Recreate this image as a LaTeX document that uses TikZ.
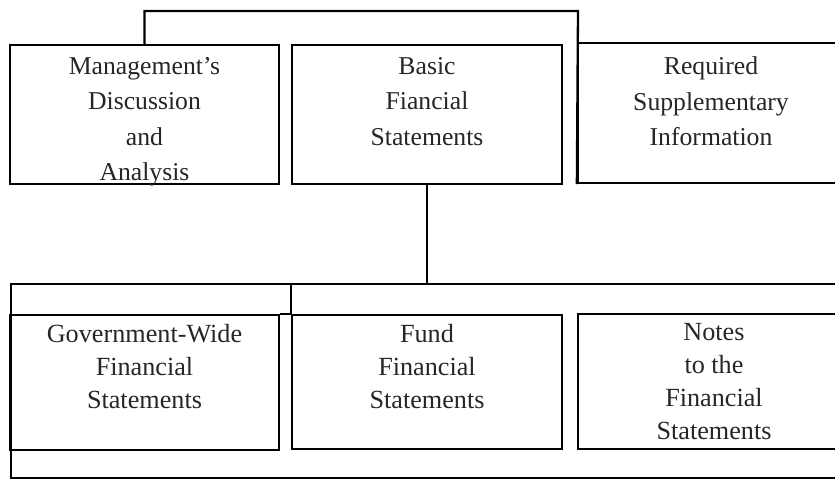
\documentclass[tikz,border=0pt]{standalone}
\usepackage{fontspec}
\setmainfont{Liberation Serif}
\usetikzlibrary{positioning}

\begin{document}
\begin{tikzpicture}[x=1pt, y=-1pt, line width=2.3pt]
  \tikzstyle{Box} = [draw, rectangle, inner sep = 0, minimum height = 139pt]
  \tikzstyle{BoxText} = [align = center, inner sep = 0, anchor = north,
                         text = black!85, font = \fontsize{25.7}{35.5}\selectfont]
  \tikzstyle{LowText} = [BoxText, font = \fontsize{26.2}{33}\selectfont]
\useasboundingbox (0,0) rectangle (835,480);
\clip (0,0) rectangle (835,480);

% top row
\node[Box, minimum width = 269pt] (MDA) at (144.5,114.5) {};
\node[Box, minimum width = 270pt] (BFS) at (427,114.5) {};
\node[Box, minimum width = 266pt, minimum height = 140pt] (RSI) at (711,113) {};
\node[BoxText, below = 12pt of MDA.north] (MDAtext) {Management’s\\Discussion\\and\\Analysis};
\node[BoxText, below = 12pt of BFS.north] (BFStext) {Basic\\Fiancial\\Statements};
\node[BoxText, below = 14pt of RSI.north] (RSItext) {Required\\Supplementary\\Information};

% frame round the bottom row
\node[draw, minimum width = 860pt, minimum height = 194pt,
      anchor = north west] (Frame) at (10,283) {};

% bottom row
\node[Box, minimum width = 269pt, minimum height = 135pt] (GW) at (144.5,382.5) {};
\node[Box, minimum width = 270pt, minimum height = 134pt] (FFS) at (427,382) {};
\node[Box, minimum width = 272pt, minimum height = 135pt] (NFS) at (714,381.5) {};
\node[LowText, below = 9pt of GW.north] (GWtext) {Government-Wide\\Financial\\Statements};
\node[LowText, below = 9pt of FFS.north] (FFStext) {Fund\\Financial\\Statements};
\node[LowText, below = 9pt of NFS.north] (NFStext) {Notes\\to the\\Financial\\Statements};

% connectors
\coordinate (Top) at (578,11);
\draw (MDA.north) |- (Top) -- (RSI.south west);
\draw (BFS.south) -- (BFS.south |- Frame.north);
\draw (FFS.north west) -- (FFS.north west |- Frame.north);
\draw (GW.north east) -- (FFS.north west);

\end{tikzpicture}
\end{document}
